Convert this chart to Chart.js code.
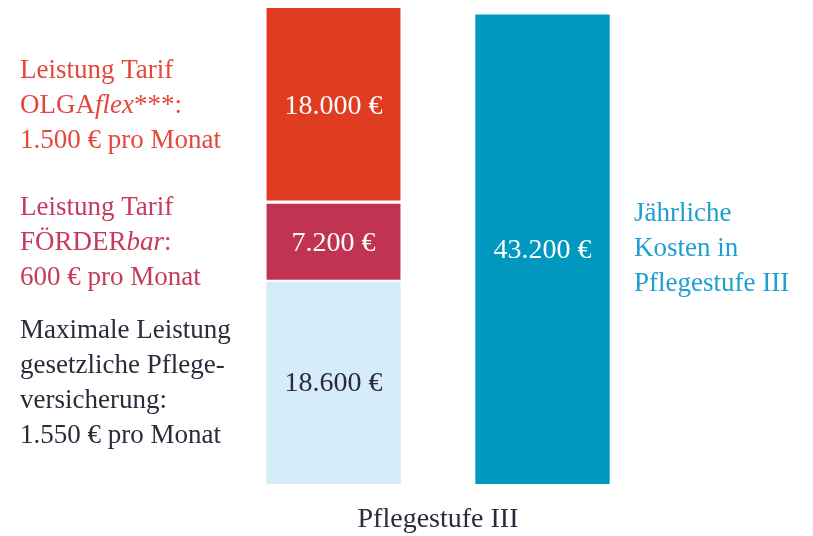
<!DOCTYPE html>
<html><head><meta charset="utf-8">
<script src="https://cdn.jsdelivr.net/npm/chart.js@4"></script>
<style>html,body{margin:0;padding:0;background:#fff}#wrap{width:813px;height:536px}</style>
</head><body><div id="wrap"><canvas id="c"></canvas></div>
<script>
const categories = ['Leistungen', 'Kosten'];
const gesetzlich = [18600, null];
const foerderbar = [7200, null];
const olgaflex = [18000, null];
const kosten = [null, 43200];
const axisLabel = 'Pflegestufe III';
const sideLabels = {
  gesetzlich: ['Maximale Leistung', 'gesetzliche Pflege-', 'versicherung:', '1.550 € pro Monat'],
  foerderbar: ['Leistung Tarif', 'FÖRDER<i>bar</i>:', '600 € pro Monat'],
  olgaflex: ['Leistung Tarif', 'OLGA<i>flex</i>***:', '1.500 € pro Monat'],
  kosten: ['Jährliche', 'Kosten in', 'Pflegestufe III']
};

const FONT = '"Liberation Serif", "DejaVu Serif", serif';
const fmt = v => v.toLocaleString('de-DE') + ' €';

function drawRich(ctx, line, x, y, size, color) {
  const parts = line.split(/(<i>.*?<\/i>)/).filter(s => s.length);
  let cx = x;
  ctx.fillStyle = color;
  ctx.textAlign = 'left';
  ctx.textBaseline = 'middle';
  for (const p of parts) {
    const it = p.startsWith('<i>');
    const t = it ? p.slice(3, -4) : p;
    ctx.font = (it ? 'italic ' : '') + size + 'px ' + FONT;
    ctx.fillText(t, cx, y);
    cx += ctx.measureText(t).width;
  }
}

const annot = {
  id: 'annot',
  afterDatasetsDraw(chart) {
    const ctx = chart.ctx;
    ctx.save();
    chart.data.datasets.forEach((ds, i) => {
      const meta = chart.getDatasetMeta(i);
      meta.data.forEach((el, j) => {
        const v = ds.data[j];
        if (v == null) return;
        const p = el.getProps(['x', 'y', 'base'], true);
        const cy = (p.y + p.base) / 2;
        ctx.font = '28px ' + FONT;
        ctx.textAlign = 'center';
        ctx.textBaseline = 'middle';
        ctx.fillStyle = ds.valueColor;
        ctx.fillText(fmt(v), p.x, cy + 1);
        const lines = ds.side;
        const lh = 35;
        const top = cy - (lines.length - 1) * lh / 2;
        const lx = ds.sideAlign === 'right' ? chart.chartArea.right - 13 : 20;
        lines.forEach((ln, k) => drawRich(ctx, ln, lx, top + k * lh, 27, ds.sideColor));
      });
    });
    ctx.font = '28px ' + FONT;
    ctx.textAlign = 'center';
    ctx.textBaseline = 'middle';
    ctx.fillStyle = '#2b2b3b';
    const ca = chart.chartArea;
    ctx.fillText(axisLabel, (ca.left + ca.right) / 2, 520);
    ctx.restore();
  }
};

const stackMax = Math.max(
  (gesetzlich[0] || 0) + (foerderbar[0] || 0) + (olgaflex[0] || 0),
  kosten[1] || 0
);

new Chart(document.getElementById('c'), {
  type: 'bar',
  data: {
    labels: categories,
    datasets: [
      { data: gesetzlich, backgroundColor: '#d4edf9', valueColor: '#2b2b3b',
        side: sideLabels.gesetzlich, sideColor: '#2b2b3b', borderWidth: 0 },
      { data: foerderbar, backgroundColor: '#c03452', valueColor: '#ffffff',
        side: sideLabels.foerderbar, sideColor: '#c83a5c',
        borderColor: '#ffffff', borderWidth: { bottom: 2, top: 0, left: 0, right: 0 }, borderSkipped: false },
      { data: olgaflex, backgroundColor: '#e03c22', valueColor: '#ffffff',
        side: sideLabels.olgaflex, sideColor: '#e5473a',
        borderColor: '#ffffff', borderWidth: { bottom: 3, top: 0, left: 0, right: 0 }, borderSkipped: false },
      { data: kosten, backgroundColor: '#0098bf', valueColor: '#ffffff',
        side: sideLabels.kosten, sideColor: '#1e9fd0', sideAlign: 'right', borderWidth: 0 }
    ]
  },
  options: {
    responsive: true,
    maintainAspectRatio: false,
    animation: false,
    layout: { padding: { left: 229, right: 166, top: 8, bottom: 52 } },
    plugins: { legend: { display: false }, tooltip: { enabled: false } },
    datasets: { bar: { categoryPercentage: 1, barPercentage: 0.643 } },
    scales: {
      x: { stacked: true, display: false },
      y: { stacked: true, display: false, min: 0, max: stackMax }
    }
  },
  plugins: [annot]
});
</script></body></html>
